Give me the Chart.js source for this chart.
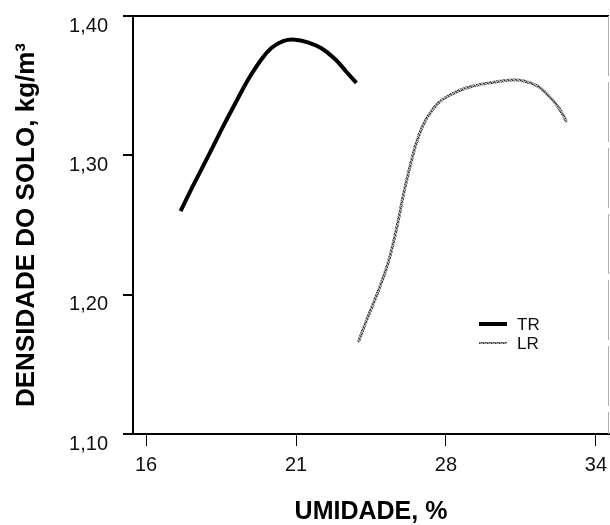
<!DOCTYPE html>
<html>
<head>
<meta charset="utf-8">
<script src="https://cdn.jsdelivr.net/npm/chart.js@4"></script>
<style>
  html, body { margin: 0; padding: 0; background: #fff; }
  #wrap { width: 610px; height: 525px; position: relative; }
</style>
</head>
<body>
<div id="wrap"><canvas id="c" width="610" height="525"></canvas></div>
<script>
// ---- data ----
const xTickLabels = [16, 21, 28, 34];           // umidade ticks (equally spaced on the axis)
const yTickValues = [1.10, 1.20, 1.30, 1.40];
const seriesNames = ['TR', 'LR'];

const trUmidade = [17.15, 17.61, 18.11, 18.60, 19.09, 19.42, 19.85, 20.18, 20.57, 20.97, 21.56, 22.17, 22.83, 23.35, 23.82];
const trDensidade = [1.260, 1.280, 1.301, 1.322, 1.342, 1.355, 1.369, 1.377, 1.382, 1.383, 1.381, 1.377, 1.369, 1.360, 1.352];

const lrUmidade = [23.91, 24.38, 24.85, 25.32, 25.70, 26.03, 26.40, 26.73, 27.11, 27.67, 28.24, 28.93, 29.73, 30.82, 31.62, 32.15, 32.55, 32.83];
const lrDensidade = [1.166, 1.185, 1.203, 1.224, 1.248, 1.273, 1.297, 1.314, 1.327, 1.338, 1.344, 1.349, 1.352, 1.354, 1.350, 1.342, 1.333, 1.324];

// piecewise mapping: the axis places the ticks 16, 21, 28, 34 at equal spacing
function toAxis(u) {
  const t = xTickLabels;
  let i = 0;
  while (i < t.length - 2 && u > t[i + 1]) i++;
  return i + (u - t[i]) / (t[i + 1] - t[i]);
}
const toPoints = (xs, ys) => xs.map((u, i) => ({ x: toAxis(u), y: ys[i] }));

const FONT = '"Liberation Sans", Arial, Helvetica, sans-serif';

// grainy grey pattern for the LR curve
function makeGrain() {
  const c = document.createElement('canvas');
  c.width = 4; c.height = 4;
  const g = c.getContext('2d');
  g.fillStyle = '#b0b0b0';
  g.fillRect(0, 0, 4, 4);
  g.fillStyle = '#3a3a3a';
  g.fillRect(0, 0, 1, 1); g.fillRect(2, 1, 1, 1); g.fillRect(1, 2, 1, 1); g.fillRect(3, 3, 1, 1);
  g.fillStyle = '#707070';
  g.fillRect(1, 0, 1, 1); g.fillRect(3, 2, 1, 1); g.fillRect(0, 3, 1, 1); g.fillRect(2, 2, 1, 1);
  return c.getContext('2d').createPattern(c, 'repeat');
}
const grain = makeGrain();

const framePlugin = {
  id: 'frame',
  afterDraw(chart) {
    const { ctx, chartArea: a } = chart;
    ctx.save();
    // top edge
    ctx.strokeStyle = '#000';
    ctx.lineWidth = 2;
    ctx.beginPath();
    ctx.moveTo(a.left, a.top);
    ctx.lineTo(a.right, a.top);
    ctx.stroke();
    // right edge (faint)
    ctx.strokeStyle = '#b0b0b0';
    ctx.lineWidth = 1;
    ctx.setLineDash([60, 6]);
    ctx.beginPath();
    ctx.moveTo(a.right - 0.5, a.top);
    ctx.lineTo(a.right - 0.5, a.bottom);
    ctx.stroke();
    ctx.setLineDash([]);
    // legend inside plot
    const lx = a.left + 346, ly = a.top + 308;
    const ds = chart.data.datasets;
    ds.forEach((d, i) => {
      const y = ly + i * 19;
      ctx.strokeStyle = d.borderColor;
      ctx.lineWidth = i === 0 ? 4 : 2;
      ctx.beginPath();
      ctx.moveTo(lx, y);
      ctx.lineTo(lx + 28, y);
      ctx.stroke();
      ctx.fillStyle = '#111';
      ctx.font = '17px ' + FONT;
      ctx.textBaseline = 'middle';
      ctx.textAlign = 'left';
      ctx.fillText(d.label, lx + 38, y + 1);
    });
    ctx.restore();
  }
};

new Chart(document.getElementById('c'), {
  type: 'line',
  data: {
    datasets: [
      {
        label: seriesNames[0],
        data: toPoints(trUmidade, trDensidade),
        borderColor: '#000',
        borderWidth: 4,
        pointRadius: 0,
        tension: 0.4,
        fill: false
      },
      {
        label: seriesNames[1],
        data: toPoints(lrUmidade, lrDensidade),
        borderColor: grain,
        borderWidth: 3,
        pointRadius: 0,
        tension: 0.4,
        fill: false
      }
    ]
  },
  options: {
    responsive: false,
    animation: false,
    layout: { padding: { top: 16, right: 1, left: 0, bottom: 0 } },
    plugins: { legend: { display: false }, tooltip: { enabled: false } },
    scales: {
      x: {
        type: 'linear',
        min: -0.087,
        max: 3.087,
        afterBuildTicks(scale) { scale.ticks = xTickLabels.map((v, i) => ({ value: i })); },
        afterFit(scale) { scale.height = 91; scale.paddingLeft = 0; scale.paddingRight = 0; },
        ticks: {
          callback: (v) => String(xTickLabels[v]),
          color: '#111',
          font: { family: FONT, size: 20 },
          padding: 7,
          maxRotation: 0,
          autoSkip: false
        },
        grid: { drawOnChartArea: false, drawTicks: true, tickLength: 12, color: '#000', lineWidth: 1 },
        border: { display: true, color: '#000', width: 2 },
        title: {
          display: true,
          text: 'UMIDADE, %',
          color: '#000',
          font: { family: FONT, size: 25, weight: 'bold', lineHeight: 1 },
          padding: { top: 0, bottom: 0 }
        }
      },
      y: {
        min: 1.10,
        max: 1.40,
        afterBuildTicks(scale) { scale.ticks = yTickValues.map(v => ({ value: v })); },
        afterFit(scale) { scale.width = 133; scale.paddingTop = 0; scale.paddingBottom = 0; },
        ticks: {
          callback: (v) => v.toFixed(2).replace('.', ','),
          color: '#111',
          font: { family: FONT, size: 20 },
          padding: 15,
          labelOffset: 10
        },
        grid: { drawOnChartArea: false, drawTicks: true, tickLength: 10, color: '#000', lineWidth: 2 },
        border: { display: true, color: '#000', width: 2 },
        title: {
          display: true,
          text: 'DENSIDADE DO SOLO, kg/m³',
          color: '#000',
          font: { family: FONT, size: 26, weight: 'bold', lineHeight: 1 },
          padding: { top: 14, bottom: 0 }
        }
      }
    }
  },
  plugins: [framePlugin]
});
</script>
</body>
</html>
